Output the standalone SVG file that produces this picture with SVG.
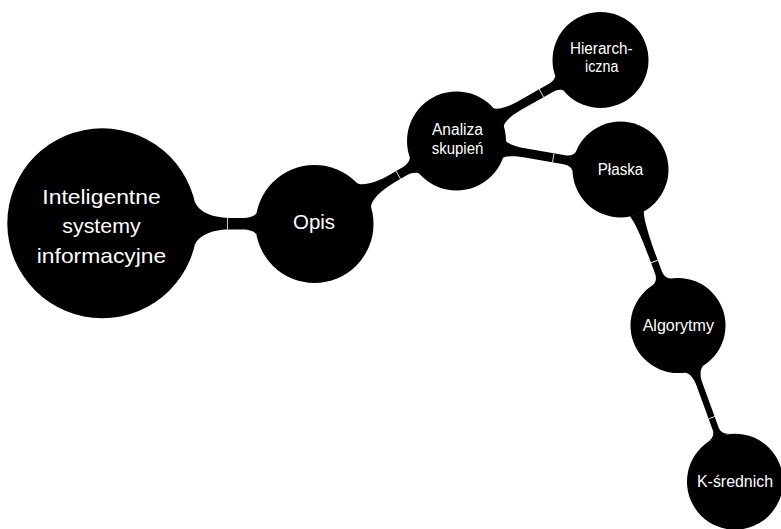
<svg xmlns="http://www.w3.org/2000/svg" width="781" height="529" viewBox="0 0 781 529">
<style>
.bar{fill:#000;stroke:none}
.seam{stroke:#fff;stroke-width:0.9;stroke-opacity:0.9}
.node circle{fill:#000}
.lbl{font-family:"Liberation Sans",Arial,sans-serif;fill:#fff;text-anchor:middle}
.big{font-size:21px}
.small{font-size:16px}
</style>
<rect width="781" height="529" fill="#fff"/>
<g id="connectors">
  <g transform="translate(102.3,223.3) rotate(0.19)">
    <path class="bar" d="M92.42,-22 C95.8,-12.28 109.4,-5.8 126.4,-5.8 L140.2,-5.8 C147.2,-5.8 152.83,-7.88 154.23,-11 L154.23,11 C152.83,7.88 147.2,5.8 140.2,5.8 L126.4,5.8 C109.4,5.8 95.8,12.28 92.42,22 Z"/>
    <line class="seam" x1="125.2" y1="-5.8" x2="125.2" y2="5.8"/>
  </g>
  <g transform="translate(314.5,224) rotate(-30.31)">
    <path class="bar" d="M57.31,-14 C60.61,-8.3 73.81,-4.5 90.31,-4.5 L104.73,-4.5 C110.73,-4.5 115.53,-7.1 116.73,-11 L116.73,11 C115.53,7.1 110.73,4.5 104.73,4.5 L90.31,4.5 C73.81,4.5 60.61,8.3 57.31,14 Z"/>
    <line class="seam" x1="97.04" y1="-4.5" x2="97.04" y2="4.5"/>
  </g>
  <g transform="translate(456.5,141) rotate(-29.36)">
    <path class="bar" d="M47.75,-11 C50.15,-7.1 59.75,-4.5 71.75,-4.5 L108.07,-4.5 C113.07,-4.5 117.07,-6.3 118.07,-9 L118.07,9 C117.07,6.3 113.07,4.5 108.07,4.5 L71.75,4.5 C59.75,4.5 50.15,7.1 47.75,11 Z"/>
    <line class="seam" x1="97.48" y1="-4.5" x2="97.48" y2="4.5"/>
  </g>
  <g transform="translate(456.5,141) rotate(9.86)">
    <path class="bar" d="M48.17,-9 C50.37,-6.3 59.17,-4.5 70.17,-4.5 L109.51,-4.5 C114.51,-4.5 118.51,-6.7 119.51,-10 L119.51,10 C118.51,6.7 114.51,4.5 109.51,4.5 L70.17,4.5 C59.17,4.5 50.37,6.3 48.17,9 Z"/>
    <line class="seam" x1="98.21" y1="-4.5" x2="98.21" y2="4.5"/>
  </g>
  <g transform="translate(620.5,169.5) rotate(69.77)">
    <path class="bar" d="M47.41,-7.5 C51.91,-5.16 69.91,-3.6 92.41,-3.6 L109.82,-3.6 C114.82,-3.6 118.82,-6.16 119.82,-10 L119.82,10 C118.82,6.16 114.82,3.6 109.82,3.6 L92.41,3.6 C69.91,3.6 51.91,5.16 47.41,7.5 Z"/>
    <line class="seam" x1="98.09" y1="-3.6" x2="98.09" y2="3.6"/>
  </g>
  <g transform="translate(678,325.5) rotate(69.95)">
    <path class="bar" d="M46.44,-10 C48.04,-5.92 54.44,-3.2 62.44,-3.2 L110.04,-3.2 C114.54,-3.2 118.14,-6.32 119.04,-11 L119.04,11 C118.14,6.32 114.54,3.2 110.04,3.2 L62.44,3.2 C54.44,3.2 48.04,5.92 46.44,10 Z"/>
    <line class="seam" x1="98.1" y1="-3.2" x2="98.1" y2="3.2"/>
  </g>
</g>
<g id="root" class="node">
  <circle cx="102.3" cy="223.3" r="95"/>
  <text class="lbl big" x="101.5" y="203.5" textLength="118.4" lengthAdjust="spacingAndGlyphs">Inteligentne</text>
  <text class="lbl big" x="101.5" y="233" textLength="78.3" lengthAdjust="spacingAndGlyphs">systemy</text>
  <text class="lbl big" x="101.5" y="262.5" textLength="129.4" lengthAdjust="spacingAndGlyphs">informacyjne</text>
</g>
<g id="opis" class="node">
  <circle cx="314.5" cy="224" r="59"/>
  <text class="lbl big" x="314" y="229.3" textLength="42" lengthAdjust="spacingAndGlyphs">Opis</text>
</g>
<g id="analiza" class="node">
  <circle cx="456.5" cy="141" r="49.5"/>
  <text class="lbl small" x="457.5" y="135" textLength="51" lengthAdjust="spacingAndGlyphs">Analiza</text>
  <text class="lbl small" x="457.5" y="154" textLength="51.6" lengthAdjust="spacingAndGlyphs">skupień</text>
</g>
<g id="hierarchiczna" class="node">
  <circle cx="600.5" cy="60" r="48"/>
  <text class="lbl small" x="601.3" y="54.3" textLength="62.7" lengthAdjust="spacingAndGlyphs">Hierarch-</text>
  <text class="lbl small" x="601.7" y="72.3" textLength="33.3" lengthAdjust="spacingAndGlyphs">iczna</text>
</g>
<g id="plaska" class="node">
  <circle cx="620.5" cy="169.5" r="48"/>
  <text class="lbl small" x="620.5" y="175" textLength="45.7" lengthAdjust="spacingAndGlyphs">Płaska</text>
</g>
<g id="algorytmy" class="node">
  <circle cx="678" cy="325.5" r="47.5"/>
  <text class="lbl small" x="678.3" y="330.7" textLength="71.3" lengthAdjust="spacingAndGlyphs">Algorytmy</text>
</g>
<g id="ksrednich" class="node">
  <circle cx="735" cy="481.7" r="48"/>
  <text class="lbl small" x="735" y="487.3" textLength="76" lengthAdjust="spacingAndGlyphs">K-średnich</text>
</g>
</svg>
